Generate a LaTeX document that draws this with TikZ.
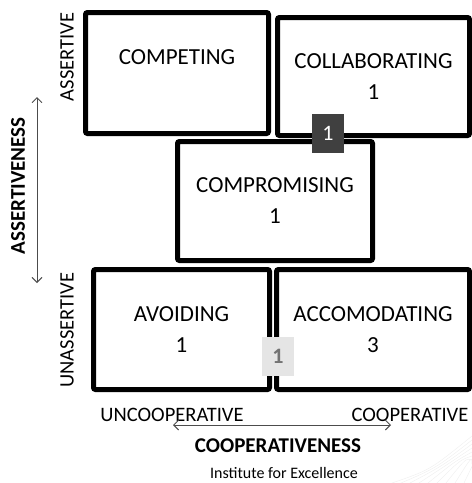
\documentclass[tikz,border=0pt]{standalone}
\usepackage{fontspec}
\setmainfont{Carlito}
\usetikzlibrary{arrows.meta}

\tikzset{
  stylebox/.style={draw, line width=5pt, rounded corners=2pt, align=center,
    font=\fontsize{23}{29}\selectfont, inner sep=0pt},
  badge/.style={minimum width=32pt, minimum height=39pt, inner sep=0pt,
    font=\fontsize{22}{26}\selectfont},
  sidelabel/.style={font=\fontsize{20.5}{24}\selectfont, inner sep=0pt},
  axislabel/.style={font=\fontsize{21}{24}\selectfont\bfseries, inner sep=0pt},
  axisarrow/.style={draw=black!70, line width=0.9pt,
    {Straight Barb[length=5pt,width=10pt]}-{Straight Barb[length=5pt,width=10pt]}}
}

\begin{document}
\begin{tikzpicture}[x=1pt,y=-1pt]
  \useasboundingbox (0,0) rectangle (472,483);

  % faint corner hatching
  \foreach \i in {0,...,9} {
    \draw[black!6, line width=0.5pt] (392+\i*9,483) .. controls (430+\i*6,470-\i*2) .. (472,436+\i*4);
  }

  % the five styles
  \node[stylebox, minimum width=183pt, minimum height=121pt] (competing) at (177,73)
    {COMPETING\\[2pt]\phantom{1}};
  \node[stylebox, minimum width=192pt, minimum height=118pt] (collaborating) at (373.5,76.5)
    {COLLABORATING\\[2pt]1};
  \node[stylebox, minimum width=195pt, minimum height=119pt] (compromising) at (275,201)
    {COMPROMISING\\[2pt]1};
  \node[stylebox, minimum width=176pt, minimum height=120pt] (avoiding) at (181.5,329.5)
    {AVOIDING\\[2pt]1};
  \node[stylebox, minimum width=193pt, minimum height=120pt] (accomodating) at (373,329.5)
    {ACCOMODATING\\[2pt]3};

  % count badges
  \node[badge, fill=black!75, text=white] (darkbadge) at (328,133.5) {1};
  \node[badge, fill=black!10, text=black!55, font=\fontsize{22}{26}\selectfont\bfseries] (lightbadge) at (278,356.5) {1};

  % vertical axis
  \node[sidelabel, rotate=90] (assertive) at (67,57) {ASSERTIVE};
  \node[sidelabel, rotate=90] (unassertive) at (67,330) {UNASSERTIVE};
  \node[axislabel, rotate=90] (assertiveness) at (18,186) {ASSERTIVENESS};
  \coordinate (vtop) at (37,97);
  \coordinate (vbot) at (37,283);
  \draw[axisarrow] (vtop) -- (vbot);

  % horizontal axis
  \node[sidelabel] (uncooperative) at (172,415) {UNCOOPERATIVE};
  \node[sidelabel] (cooperative) at (410,415) {COOPERATIVE};
  \node[axislabel] (cooperativeness) at (278,446) {COOPERATIVENESS};
  \coordinate (hleft) at (173,425);
  \coordinate (hright) at (391,425);
  \draw[axisarrow] (hleft) -- (hright);

  \node[font=\fontsize{16}{19}\selectfont, inner sep=0pt] (institute) at (284,473) {Institute for Excellence};
\end{tikzpicture}
\end{document}
